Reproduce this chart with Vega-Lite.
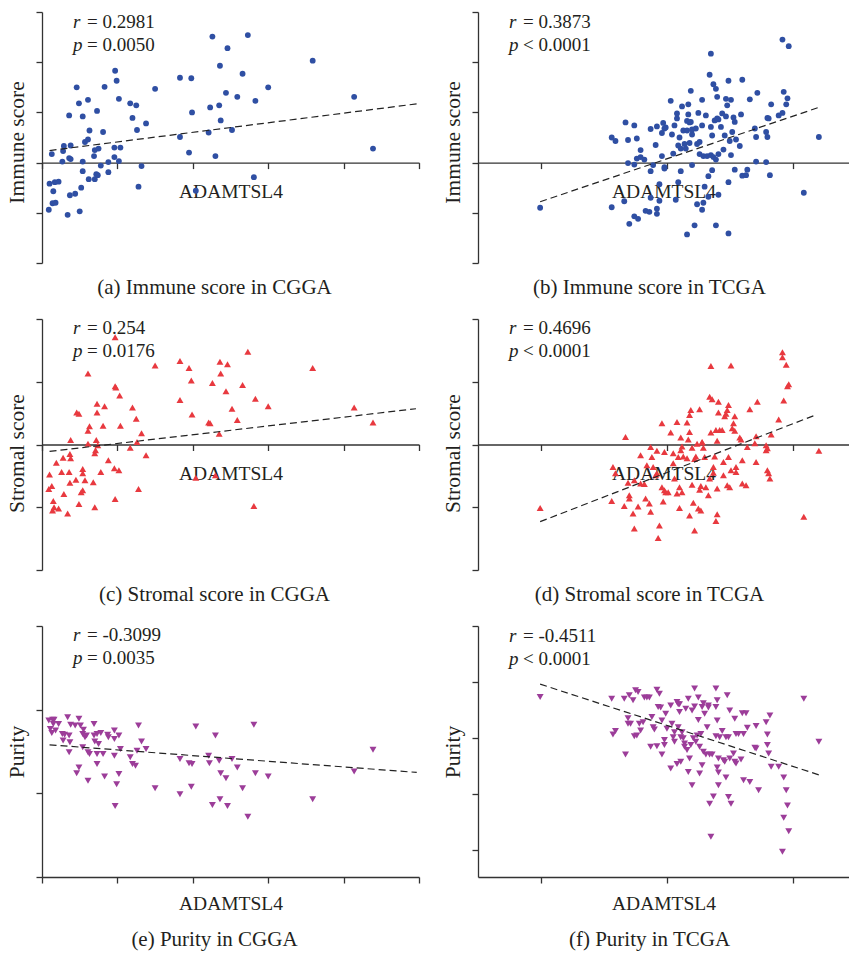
{
"$schema":"https://vega.github.io/schema/vega-lite/v6.json",
"background":"white",
"autosize":{"type":"pad"},
"padding":{"left":6,"top":11,"right":0,"bottom":0},
"bounds":"flush",
"columns":2,
"spacing":{"row":56,"column":59},
"config":{
 "view":{"stroke":null},
 "font":"Liberation Serif",
 "axis":{"labels":false,"grid":false,"domainColor":"#333","domainWidth":1.3,"tickColor":"#333","tickWidth":1.3,"tickSize":6,"titleFont":"Liberation Serif","titleFontWeight":"normal","titleColor":"#231f20"},
 "axisX":{"titleFontSize":19.5,"titlePadding":13},
 "axisY":{"titleFontSize":21.5,"titlePadding":7},
 "title":{"font":"Liberation Serif","fontSize":21,"fontWeight":"normal","color":"#231f20","orient":"bottom","anchor":"middle","offset":13},
 "text":{"font":"Liberation Serif","fontSize":19,"color":"#231f20","align":"left","baseline":"alphabetic","lineHeight":23}
},
"datasets":{
"a":[{"x":0.13,"y":0.17},{"x":0.10,"y":-0.42},{"x":0.15,"y":-0.57},{"x":0.17,"y":-0.39},{"x":0.22,"y":-0.38},{"x":0.09,"y":-0.94},{"x":0.14,"y":-0.81},{"x":0.18,"y":-0.80},{"x":0.27,"y":0.02},{"x":0.28,"y":0.23},{"x":0.29,"y":0.33},{"x":0.34,"y":-1.04},{"x":0.37,"y":-0.65},{"x":0.36,"y":0.09},{"x":0.38,"y":0.07},{"x":0.38,"y":0.34},{"x":0.36,"y":0.94},{"x":0.44,"y":-0.62},{"x":0.46,"y":1.50},{"x":0.49,"y":1.18},{"x":0.50,"y":-0.97},{"x":0.52,"y":-0.50},{"x":0.54,"y":0.02},{"x":0.54,"y":0.92},{"x":0.54,"y":-0.17},{"x":0.57,"y":0.41},{"x":0.61,"y":1.25},{"x":0.61,"y":0.46},{"x":0.62,"y":-0.33},{"x":0.63,"y":0.64},{"x":0.69,"y":0.13},{"x":0.70,"y":0.25},{"x":0.70,"y":-0.33},{"x":0.72,"y":-0.23},{"x":0.73,"y":1.03},{"x":0.74,"y":-0.25},{"x":0.75,"y":0.28},{"x":0.78,"y":-0.06},{"x":0.81,"y":0.61},{"x":0.83,"y":1.51},{"x":0.88,"y":0.01},{"x":0.88,"y":-0.19},{"x":0.96,"y":0.30},{"x":0.96,"y":0.11},{"x":0.97,"y":1.83},{"x":0.99,"y":1.63},{"x":1.02,"y":0.03},{"x":1.02,"y":1.27},{"x":1.04,"y":0.30},{"x":1.17,"y":1.18},{"x":1.20,"y":0.89},{"x":1.25,"y":1.14},{"x":1.26,"y":0.65},{"x":1.28,"y":-0.48},{"x":1.32,"y":-0.07},{"x":1.38,"y":0.78},{"x":1.50,"y":1.47},{"x":1.83,"y":1.69},{"x":1.83,"y":0.51},{"x":1.95,"y":0.20},{"x":1.98,"y":1.68},{"x":1.99,"y":1.00},{"x":2.04,"y":-0.56},{"x":2.21,"y":0.60},{"x":2.23,"y":1.10},{"x":2.26,"y":2.51},{"x":2.30,"y":0.13},{"x":2.35,"y":1.14},{"x":2.36,"y":1.93},{"x":2.37,"y":0.84},{"x":2.44,"y":1.39},{"x":2.46,"y":2.28},{"x":2.52,"y":0.65},{"x":2.59,"y":1.31},{"x":2.66,"y":1.77},{"x":2.73,"y":2.54},{"x":2.81,"y":-0.29},{"x":2.83,"y":1.23},{"x":3.00,"y":1.50},{"x":3.59,"y":2.03},{"x":4.14,"y":1.31},{"x":4.39,"y":0.28}],
"a_fit":[{"x":0.10,"y":0.24},{"x":4.97,"y":1.17}],
"b":[{"x":-0.01,"y":-0.90},{"x":0.56,"y":0.50},{"x":0.59,"y":0.43},{"x":0.56,"y":-0.89},{"x":0.66,"y":-0.77},{"x":0.67,"y":0.80},{"x":0.69,"y":0.45},{"x":0.69,"y":-0.01},{"x":0.70,"y":-1.22},{"x":0.74,"y":0.74},{"x":0.74,"y":-0.04},{"x":0.74,"y":-1.07},{"x":0.76,"y":0.48},{"x":0.77,"y":-1.12},{"x":0.76,"y":0.08},{"x":0.79,"y":0.25},{"x":0.79,"y":0.11},{"x":0.82,"y":0.06},{"x":0.83,"y":-0.96},{"x":0.86,"y":-0.98},{"x":0.87,"y":0.67},{"x":0.87,"y":-0.17},{"x":0.87,"y":-0.70},{"x":0.89,"y":-0.05},{"x":0.91,"y":0.35},{"x":0.92,"y":0.72},{"x":0.92,"y":-0.92},{"x":0.92,"y":-1.02},{"x":0.94,"y":-0.43},{"x":0.94,"y":-0.76},{"x":0.96,"y":0.13},{"x":0.96,"y":0.59},{"x":0.97,"y":0.79},{"x":0.98,"y":0.68},{"x":0.98,"y":-0.09},{"x":0.98,"y":-0.12},{"x":0.99,"y":0.70},{"x":1.03,"y":1.23},{"x":1.04,"y":0.56},{"x":1.05,"y":0.18},{"x":1.06,"y":0.74},{"x":1.07,"y":-0.74},{"x":1.08,"y":0.88},{"x":1.08,"y":0.98},{"x":1.09,"y":0.34},{"x":1.09,"y":-0.39},{"x":1.10,"y":0.50},{"x":1.11,"y":0.28},{"x":1.11,"y":-0.17},{"x":1.12,"y":1.12},{"x":1.13,"y":0.64},{"x":1.14,"y":0.37},{"x":1.15,"y":0.28},{"x":1.16,"y":0.64},{"x":1.16,"y":0.83},{"x":1.16,"y":-1.43},{"x":1.17,"y":1.16},{"x":1.17,"y":0.96},{"x":1.18,"y":0.39},{"x":1.18,"y":0.80},{"x":1.19,"y":1.43},{"x":1.19,"y":0.81},{"x":1.20,"y":-0.05},{"x":1.20,"y":0.56},{"x":1.20,"y":0.66},{"x":1.22,"y":-1.25},{"x":1.23,"y":0.68},{"x":1.24,"y":0.37},{"x":1.24,"y":-0.83},{"x":1.25,"y":0.99},{"x":1.26,"y":0.41},{"x":1.26,"y":0.17},{"x":1.28,"y":1.25},{"x":1.28,"y":0.74},{"x":1.28,"y":-0.94},{"x":1.29,"y":0.13},{"x":1.29,"y":-0.80},{"x":1.30,"y":-0.48},{"x":1.31,"y":0.94},{"x":1.32,"y":0.13},{"x":1.33,"y":-0.68},{"x":1.33,"y":-0.27},{"x":1.34,"y":1.75},{"x":1.35,"y":0.71},{"x":1.35,"y":2.17},{"x":1.35,"y":0.15},{"x":1.36,"y":-0.15},{"x":1.36,"y":0.54},{"x":1.37,"y":1.56},{"x":1.37,"y":0.11},{"x":1.38,"y":0.84},{"x":1.39,"y":-1.25},{"x":1.39,"y":0.06},{"x":1.39,"y":1.47},{"x":1.40,"y":0.88},{"x":1.40,"y":1.31},{"x":1.41,"y":0.17},{"x":1.41,"y":-0.64},{"x":1.41,"y":0.86},{"x":1.43,"y":0.71},{"x":1.44,"y":0.98},{"x":1.45,"y":0.26},{"x":1.46,"y":0.54},{"x":1.47,"y":1.27},{"x":1.47,"y":0.92},{"x":1.48,"y":1.14},{"x":1.49,"y":-1.41},{"x":1.49,"y":1.63},{"x":1.49,"y":-0.39},{"x":1.50,"y":0.43},{"x":1.51,"y":0.15},{"x":1.51,"y":1.25},{"x":1.52,"y":0.61},{"x":1.53,"y":0.90},{"x":1.54,"y":-0.14},{"x":1.54,"y":0.81},{"x":1.55,"y":0.46},{"x":1.58,"y":0.33},{"x":1.59,"y":0.96},{"x":1.60,"y":-0.26},{"x":1.60,"y":1.65},{"x":1.63,"y":-0.25},{"x":1.64,"y":-0.14},{"x":1.66,"y":1.26},{"x":1.70,"y":0.68},{"x":1.71,"y":0.51},{"x":1.71,"y":0.02},{"x":1.72,"y":1.39},{"x":1.79,"y":0.01},{"x":1.79,"y":0.61},{"x":1.80,"y":0.51},{"x":1.80,"y":0.89},{"x":1.81,"y":0.88},{"x":1.82,"y":-0.25},{"x":1.83,"y":1.16},{"x":1.89,"y":0.94},{"x":1.92,"y":2.45},{"x":1.92,"y":0.99},{"x":1.93,"y":1.41},{"x":1.95,"y":1.16},{"x":1.96,"y":1.28},{"x":1.97,"y":2.32},{"x":2.09,"y":-0.60},{"x":2.21,"y":0.51}],
"b_fit":[{"x":-0.01,"y":-0.78},{"x":2.21,"y":1.10}],
"c":[{"x":0.10,"y":-0.48},{"x":0.09,"y":-0.71},{"x":0.13,"y":-0.66},{"x":0.15,"y":-0.90},{"x":0.14,"y":-1.05},{"x":0.16,"y":-1.00},{"x":0.19,"y":-0.29},{"x":0.22,"y":-1.02},{"x":0.26,"y":-0.44},{"x":0.28,"y":-0.21},{"x":0.29,"y":-0.79},{"x":0.34,"y":-1.10},{"x":0.36,"y":-0.44},{"x":0.37,"y":-0.15},{"x":0.38,"y":0.07},{"x":0.38,"y":-0.22},{"x":0.37,"y":-0.61},{"x":0.45,"y":-0.56},{"x":0.46,"y":0.51},{"x":0.49,"y":0.49},{"x":0.49,"y":-0.95},{"x":0.52,"y":-0.76},{"x":0.54,"y":-0.39},{"x":0.54,"y":-0.73},{"x":0.54,"y":-0.46},{"x":0.57,"y":-0.57},{"x":0.61,"y":1.13},{"x":0.61,"y":0.01},{"x":0.61,"y":0.22},{"x":0.63,"y":0.29},{"x":0.68,"y":-0.60},{"x":0.70,"y":-0.14},{"x":0.70,"y":-1.00},{"x":0.71,"y":-0.09},{"x":0.73,"y":0.65},{"x":0.73,"y":0.51},{"x":0.72,"y":0.07},{"x":0.74,"y":-0.01},{"x":0.78,"y":-0.44},{"x":0.81,"y":0.30},{"x":0.83,"y":0.61},{"x":0.88,"y":-0.25},{"x":0.96,"y":-0.38},{"x":0.97,"y":-0.87},{"x":0.97,"y":1.71},{"x":0.97,"y":0.93},{"x":0.98,"y":0.91},{"x":1.02,"y":-0.41},{"x":1.03,"y":0.78},{"x":1.04,"y":0.30},{"x":1.17,"y":-0.05},{"x":1.20,"y":0.59},{"x":1.25,"y":0.41},{"x":1.26,"y":0.04},{"x":1.28,"y":-0.71},{"x":1.32,"y":0.18},{"x":1.38,"y":-0.17},{"x":1.50,"y":1.26},{"x":1.83,"y":1.33},{"x":1.83,"y":0.71},{"x":1.95,"y":1.22},{"x":1.98,"y":1.02},{"x":1.99,"y":0.48},{"x":2.04,"y":-0.53},{"x":2.21,"y":0.35},{"x":2.23,"y":0.34},{"x":2.26,"y":0.98},{"x":2.30,"y":-0.49},{"x":2.35,"y":0.17},{"x":2.36,"y":1.32},{"x":2.37,"y":1.13},{"x":2.44,"y":0.85},{"x":2.46,"y":1.28},{"x":2.52,"y":0.57},{"x":2.59,"y":0.39},{"x":2.66,"y":0.95},{"x":2.73,"y":1.48},{"x":2.81,"y":-0.98},{"x":2.83,"y":0.73},{"x":3.00,"y":0.61},{"x":3.59,"y":1.22},{"x":4.14,"y":0.59},{"x":4.39,"y":0.35}],
"c_fit":[{"x":0.10,"y":-0.11},{"x":4.96,"y":0.57}],
"d":[{"x":-0.01,"y":-1.01},{"x":0.56,"y":-0.90},{"x":0.57,"y":-0.36},{"x":0.59,"y":-0.46},{"x":0.66,"y":-0.98},{"x":0.67,"y":0.12},{"x":0.69,"y":-0.61},{"x":0.70,"y":-0.81},{"x":0.70,"y":-0.86},{"x":0.73,"y":-1.10},{"x":0.74,"y":-0.57},{"x":0.74,"y":-1.34},{"x":0.77,"y":-0.99},{"x":0.79,"y":-0.17},{"x":0.79,"y":-0.62},{"x":0.82,"y":-0.63},{"x":0.83,"y":-0.86},{"x":0.84,"y":-0.33},{"x":0.86,"y":-0.94},{"x":0.87,"y":-1.07},{"x":0.87,"y":-0.04},{"x":0.88,"y":-0.20},{"x":0.89,"y":-0.36},{"x":0.91,"y":-0.49},{"x":0.92,"y":-0.10},{"x":0.92,"y":-0.46},{"x":0.93,"y":-1.49},{"x":0.94,"y":-1.29},{"x":0.96,"y":-0.68},{"x":0.96,"y":0.34},{"x":0.97,"y":-0.91},{"x":0.98,"y":-0.73},{"x":0.98,"y":-0.12},{"x":0.99,"y":-0.76},{"x":1.01,"y":-0.76},{"x":1.03,"y":0.19},{"x":1.05,"y":-0.14},{"x":1.05,"y":-0.30},{"x":1.06,"y":-0.54},{"x":1.08,"y":0.36},{"x":1.08,"y":-0.78},{"x":1.09,"y":-0.20},{"x":1.10,"y":-0.68},{"x":1.10,"y":-1.01},{"x":1.11,"y":0.11},{"x":1.11,"y":-0.09},{"x":1.12,"y":-0.76},{"x":1.12,"y":-0.03},{"x":1.13,"y":-0.19},{"x":1.16,"y":-0.22},{"x":1.16,"y":0.35},{"x":1.17,"y":0.08},{"x":1.18,"y":0.47},{"x":1.18,"y":0.20},{"x":1.18,"y":-1.13},{"x":1.19,"y":0.55},{"x":1.20,"y":-0.05},{"x":1.20,"y":-0.64},{"x":1.21,"y":-0.93},{"x":1.22,"y":-0.23},{"x":1.22,"y":-1.37},{"x":1.23,"y":-0.19},{"x":1.24,"y":0.01},{"x":1.25,"y":-1.02},{"x":1.26,"y":0.56},{"x":1.26,"y":-0.72},{"x":1.27,"y":-1.05},{"x":1.27,"y":-0.66},{"x":1.28,"y":0.03},{"x":1.28,"y":0.04},{"x":1.29,"y":-0.05},{"x":1.30,"y":-0.20},{"x":1.31,"y":-0.68},{"x":1.33,"y":-0.81},{"x":1.34,"y":0.76},{"x":1.34,"y":-0.54},{"x":1.35,"y":0.19},{"x":1.35,"y":1.25},{"x":1.36,"y":0.72},{"x":1.37,"y":-0.36},{"x":1.37,"y":-0.45},{"x":1.38,"y":-0.19},{"x":1.39,"y":0.23},{"x":1.39,"y":-1.22},{"x":1.40,"y":-1.11},{"x":1.40,"y":0.06},{"x":1.40,"y":-0.70},{"x":1.41,"y":0.51},{"x":1.41,"y":0.68},{"x":1.42,"y":0.23},{"x":1.44,"y":0.23},{"x":1.45,"y":-0.28},{"x":1.45,"y":-0.49},{"x":1.46,"y":0.45},{"x":1.47,"y":0.49},{"x":1.48,"y":0.55},{"x":1.48,"y":-0.65},{"x":1.49,"y":0.63},{"x":1.49,"y":-0.20},{"x":1.50,"y":-0.68},{"x":1.51,"y":-0.41},{"x":1.51,"y":1.26},{"x":1.52,"y":0.26},{"x":1.53,"y":0.34},{"x":1.54,"y":0.45},{"x":1.54,"y":0.22},{"x":1.55,"y":-0.44},{"x":1.55,"y":-0.36},{"x":1.58,"y":0.11},{"x":1.59,"y":0.08},{"x":1.60,"y":-0.25},{"x":1.60,"y":-0.62},{"x":1.63,"y":-0.65},{"x":1.64,"y":-0.04},{"x":1.66,"y":0.56},{"x":1.70,"y":0.02},{"x":1.71,"y":-0.28},{"x":1.71,"y":0.13},{"x":1.72,"y":0.68},{"x":1.79,"y":-0.09},{"x":1.79,"y":-0.01},{"x":1.80,"y":-0.41},{"x":1.80,"y":-0.06},{"x":1.81,"y":-0.46},{"x":1.82,"y":-0.54},{"x":1.83,"y":0.16},{"x":1.89,"y":0.40},{"x":1.92,"y":1.47},{"x":1.92,"y":1.39},{"x":1.93,"y":0.70},{"x":1.95,"y":1.27},{"x":1.96,"y":0.93},{"x":1.97,"y":0.96},{"x":2.09,"y":-1.15},{"x":2.21,"y":-0.10}],
"d_fit":[{"x":-0.01,"y":-1.23},{"x":2.17,"y":0.46}],
"e":[{"x":0.09,"y":1.87},{"x":0.11,"y":1.77},{"x":0.13,"y":1.72},{"x":0.14,"y":1.88},{"x":0.15,"y":1.83},{"x":0.16,"y":1.88},{"x":0.18,"y":1.75},{"x":0.22,"y":1.83},{"x":0.27,"y":1.71},{"x":0.28,"y":1.63},{"x":0.30,"y":1.70},{"x":0.34,"y":1.91},{"x":0.36,"y":1.69},{"x":0.37,"y":1.61},{"x":0.38,"y":1.82},{"x":0.36,"y":1.49},{"x":0.44,"y":1.81},{"x":0.46,"y":1.24},{"x":0.49,"y":1.89},{"x":0.49,"y":1.31},{"x":0.51,"y":1.81},{"x":0.54,"y":1.71},{"x":0.54,"y":1.55},{"x":0.55,"y":1.76},{"x":0.57,"y":1.67},{"x":0.59,"y":1.69},{"x":0.61,"y":1.49},{"x":0.61,"y":1.15},{"x":0.63,"y":1.47},{"x":0.69,"y":1.83},{"x":0.69,"y":1.69},{"x":0.70,"y":1.62},{"x":0.73,"y":1.71},{"x":0.73,"y":1.47},{"x":0.73,"y":1.35},{"x":0.75,"y":1.59},{"x":0.78,"y":1.72},{"x":0.81,"y":1.47},{"x":0.83,"y":1.20},{"x":0.87,"y":1.70},{"x":0.88,"y":1.67},{"x":0.96,"y":1.75},{"x":0.96,"y":1.65},{"x":0.96,"y":1.45},{"x":0.97,"y":0.85},{"x":0.99,"y":1.11},{"x":1.02,"y":1.23},{"x":1.02,"y":1.69},{"x":1.04,"y":1.53},{"x":1.17,"y":1.43},{"x":1.20,"y":1.35},{"x":1.24,"y":1.33},{"x":1.26,"y":1.51},{"x":1.28,"y":1.81},{"x":1.32,"y":1.62},{"x":1.38,"y":1.53},{"x":1.50,"y":1.06},{"x":1.83,"y":1.41},{"x":1.83,"y":0.99},{"x":1.95,"y":1.36},{"x":1.98,"y":1.08},{"x":1.99,"y":1.35},{"x":2.04,"y":1.80},{"x":2.21,"y":1.45},{"x":2.22,"y":1.36},{"x":2.26,"y":0.86},{"x":2.30,"y":1.69},{"x":2.35,"y":1.39},{"x":2.36,"y":0.93},{"x":2.37,"y":1.24},{"x":2.44,"y":1.18},{"x":2.46,"y":0.85},{"x":2.52,"y":1.41},{"x":2.59,"y":1.31},{"x":2.66,"y":1.06},{"x":2.73,"y":0.72},{"x":2.81,"y":1.82},{"x":2.83,"y":1.24},{"x":3.00,"y":1.20},{"x":3.59,"y":0.93},{"x":4.14,"y":1.26},{"x":4.39,"y":1.52}],
"e_fit":[{"x":0.10,"y":1.58},{"x":4.97,"y":1.25}],
"f":[{"x":-0.01,"y":2.73},{"x":0.56,"y":2.70},{"x":0.57,"y":2.06},{"x":0.59,"y":2.12},{"x":0.66,"y":2.70},{"x":0.67,"y":1.70},{"x":0.69,"y":2.35},{"x":0.69,"y":2.25},{"x":0.70,"y":2.76},{"x":0.71,"y":2.25},{"x":0.73,"y":2.67},{"x":0.74,"y":2.03},{"x":0.75,"y":2.85},{"x":0.76,"y":2.04},{"x":0.77,"y":2.82},{"x":0.78,"y":2.25},{"x":0.79,"y":2.13},{"x":0.81,"y":2.28},{"x":0.82,"y":2.72},{"x":0.84,"y":2.72},{"x":0.86,"y":2.72},{"x":0.87,"y":1.84},{"x":0.88,"y":2.37},{"x":0.89,"y":2.19},{"x":0.90,"y":2.15},{"x":0.92,"y":1.85},{"x":0.92,"y":2.86},{"x":0.93,"y":2.55},{"x":0.94,"y":2.79},{"x":0.95,"y":2.54},{"x":0.96,"y":2.31},{"x":0.96,"y":1.70},{"x":0.98,"y":1.96},{"x":0.98,"y":1.87},{"x":0.99,"y":2.43},{"x":1.00,"y":2.16},{"x":1.03,"y":2.58},{"x":1.03,"y":1.45},{"x":1.04,"y":2.25},{"x":1.05,"y":2.01},{"x":1.06,"y":2.10},{"x":1.06,"y":1.93},{"x":1.08,"y":2.64},{"x":1.08,"y":1.53},{"x":1.09,"y":2.60},{"x":1.09,"y":2.19},{"x":1.10,"y":2.60},{"x":1.10,"y":2.46},{"x":1.11,"y":2.01},{"x":1.11,"y":1.57},{"x":1.12,"y":2.10},{"x":1.13,"y":1.99},{"x":1.14,"y":1.84},{"x":1.14,"y":1.90},{"x":1.15,"y":2.52},{"x":1.16,"y":1.78},{"x":1.17,"y":1.39},{"x":1.17,"y":2.70},{"x":1.18,"y":1.63},{"x":1.19,"y":1.87},{"x":1.20,"y":1.15},{"x":1.20,"y":2.49},{"x":1.21,"y":1.99},{"x":1.22,"y":2.56},{"x":1.22,"y":2.88},{"x":1.23,"y":1.93},{"x":1.24,"y":2.04},{"x":1.25,"y":2.72},{"x":1.25,"y":2.32},{"x":1.26,"y":1.84},{"x":1.26,"y":1.36},{"x":1.27,"y":2.07},{"x":1.28,"y":2.55},{"x":1.28,"y":1.51},{"x":1.29,"y":1.75},{"x":1.29,"y":2.62},{"x":1.30,"y":2.43},{"x":1.31,"y":1.70},{"x":1.32,"y":2.19},{"x":1.33,"y":2.58},{"x":1.33,"y":2.54},{"x":1.34,"y":0.82},{"x":1.34,"y":1.70},{"x":1.35,"y":0.23},{"x":1.36,"y":1.70},{"x":1.37,"y":0.95},{"x":1.39,"y":2.03},{"x":1.39,"y":2.55},{"x":1.39,"y":2.88},{"x":1.40,"y":2.67},{"x":1.40,"y":2.31},{"x":1.40,"y":1.47},{"x":1.41,"y":1.63},{"x":1.41,"y":1.15},{"x":1.41,"y":1.38},{"x":1.42,"y":2.01},{"x":1.44,"y":2.12},{"x":1.45,"y":1.60},{"x":1.46,"y":1.57},{"x":1.47,"y":2.01},{"x":1.47,"y":1.29},{"x":1.48,"y":2.76},{"x":1.49,"y":0.94},{"x":1.49,"y":2.01},{"x":1.50,"y":2.49},{"x":1.50,"y":1.63},{"x":1.51,"y":0.82},{"x":1.53,"y":1.72},{"x":1.54,"y":1.57},{"x":1.54,"y":2.34},{"x":1.55,"y":1.54},{"x":1.55,"y":2.07},{"x":1.57,"y":2.07},{"x":1.59,"y":1.61},{"x":1.60,"y":2.44},{"x":1.61,"y":2.07},{"x":1.61,"y":1.24},{"x":1.63,"y":2.44},{"x":1.64,"y":2.18},{"x":1.66,"y":1.21},{"x":1.70,"y":1.82},{"x":1.71,"y":1.81},{"x":1.71,"y":2.21},{"x":1.73,"y":1.06},{"x":1.79,"y":2.28},{"x":1.80,"y":2.06},{"x":1.80,"y":1.87},{"x":1.81,"y":1.72},{"x":1.82,"y":2.40},{"x":1.83,"y":1.48},{"x":1.89,"y":1.48},{"x":1.93,"y":1.29},{"x":1.93,"y":0.57},{"x":1.92,"y":-0.04},{"x":1.95,"y":1.06},{"x":1.96,"y":0.79},{"x":1.97,"y":0.33},{"x":2.09,"y":2.70},{"x":2.21,"y":1.93}],
"f_fit":[{"x":-0.01,"y":2.96},{"x":2.22,"y":1.33}]
},
"concat":[
{"width":377,"height":251,"title":{"text":"(a) Immune score in CGGA","dx":-16},
 "layer":[
  {"data":{"name":"a"},"mark":{"type":"point","shape":"circle","filled":true,"size":34,"color":"#2f4fa3","opacity":1},
   "encoding":{"x":{"field":"x","type":"quantitative","title":"ADAMTSL4","scale":{"domain":[0,5],"nice":false,"zero":false},"axis":{"values":[0,1,2,3,4,5],"offset":-100.4}},
               "y":{"field":"y","type":"quantitative","title":"Immune score","scale":{"domain":[-2,3],"nice":false,"zero":false},"axis":{"values":[-2,-1,0,1,2,3],"titleY":130}}}},
  {"data":{"name":"a_fit"},"mark":{"type":"line","strokeDash":[7,4],"color":"#222","strokeWidth":1.2},
   "encoding":{"x":{"field":"x","type":"quantitative","title":"ADAMTSL4"},"y":{"field":"y","type":"quantitative","title":"Immune score"}}},
  {"data":{"values":[{}]},"mark":{"type":"text","text":["r","p"],"fontStyle":"italic"},"encoding":{"x":{"datum":0.41},"y":{"datum":2.69}}},
  {"data":{"values":[{}]},"mark":{"type":"text","text":["= 0.2981","= 0.0050"],"dx":14},"encoding":{"x":{"datum":0.41},"y":{"datum":2.69}}}
 ]},
{"width":371,"height":251,"title":{"text":"(b) Immune score in TCGA","dx":-14},
 "layer":[
  {"data":{"name":"b"},"mark":{"type":"point","shape":"circle","filled":true,"size":34,"color":"#2f4fa3","opacity":1},
   "encoding":{"x":{"field":"x","type":"quantitative","title":"ADAMTSL4","scale":{"domain":[-0.505,2.45],"nice":false,"zero":false},"axis":{"values":[0,1,2],"offset":-100.4}},
               "y":{"field":"y","type":"quantitative","title":"Immune score","scale":{"domain":[-2,3],"nice":false,"zero":false},"axis":{"values":[-2,-1,0,1,2,3],"titleY":130}}}},
  {"data":{"name":"b_fit"},"mark":{"type":"line","strokeDash":[7,4],"color":"#222","strokeWidth":1.2},
   "encoding":{"x":{"field":"x","type":"quantitative","title":"ADAMTSL4"},"y":{"field":"y","type":"quantitative","title":"Immune score"}}},
  {"data":{"values":[{}]},"mark":{"type":"text","text":["r","p"],"fontStyle":"italic"},"encoding":{"x":{"datum":-0.258},"y":{"datum":2.69}}},
  {"data":{"values":[{}]},"mark":{"type":"text","text":["= 0.3873","< 0.0001"],"dx":14},"encoding":{"x":{"datum":-0.258},"y":{"datum":2.69}}}
 ]},
{"width":377,"height":251,"title":{"text":"(c) Stromal score in CGGA","dx":-16},
 "layer":[
  {"data":{"name":"c"},"mark":{"type":"point","shape":"triangle-up","filled":true,"size":48,"color":"#e8393f","opacity":1},
   "encoding":{"x":{"field":"x","type":"quantitative","title":"ADAMTSL4","scale":{"domain":[0,5],"nice":false,"zero":false},"axis":{"values":[0,1,2,3,4,5],"offset":-125.5}},
               "y":{"field":"y","type":"quantitative","title":"Stromal score","scale":{"domain":[-2,2],"nice":false,"zero":false},"axis":{"values":[-2,-1,0,1,2],"titleY":134}}}},
  {"data":{"name":"c_fit"},"mark":{"type":"line","strokeDash":[7,4],"color":"#222","strokeWidth":1.2},
   "encoding":{"x":{"field":"x","type":"quantitative","title":"ADAMTSL4"},"y":{"field":"y","type":"quantitative","title":"Stromal score"}}},
  {"data":{"values":[{}]},"mark":{"type":"text","text":["r","p"],"fontStyle":"italic"},"encoding":{"x":{"datum":0.41},"y":{"datum":1.76}}},
  {"data":{"values":[{}]},"mark":{"type":"text","text":["= 0.254","= 0.0176"],"dx":14},"encoding":{"x":{"datum":0.41},"y":{"datum":1.76}}}
 ]},
{"width":371,"height":251,"title":{"text":"(d) Stromal score in TCGA","dx":-14},
 "layer":[
  {"data":{"name":"d"},"mark":{"type":"point","shape":"triangle-up","filled":true,"size":48,"color":"#e8393f","opacity":1},
   "encoding":{"x":{"field":"x","type":"quantitative","title":"ADAMTSL4","scale":{"domain":[-0.505,2.45],"nice":false,"zero":false},"axis":{"values":[0,1,2],"offset":-125.5}},
               "y":{"field":"y","type":"quantitative","title":"Stromal score","scale":{"domain":[-2,2],"nice":false,"zero":false},"axis":{"values":[-2,-1,0,1,2],"titleY":134}}}},
  {"data":{"name":"d_fit"},"mark":{"type":"line","strokeDash":[7,4],"color":"#222","strokeWidth":1.2},
   "encoding":{"x":{"field":"x","type":"quantitative","title":"ADAMTSL4"},"y":{"field":"y","type":"quantitative","title":"Stromal score"}}},
  {"data":{"values":[{}]},"mark":{"type":"text","text":["r","p"],"fontStyle":"italic"},"encoding":{"x":{"datum":-0.258},"y":{"datum":1.76}}},
  {"data":{"values":[{}]},"mark":{"type":"text","text":["= 0.4696","< 0.0001"],"dx":14},"encoding":{"x":{"datum":-0.258},"y":{"datum":1.76}}}
 ]},
{"width":377,"height":251,"title":{"text":"(e) Purity in CGGA","offset":16,"dx":-16},
 "layer":[
  {"data":{"name":"e"},"mark":{"type":"point","shape":"triangle-down","filled":true,"size":48,"color":"#9c3d99","opacity":1},
   "encoding":{"x":{"field":"x","type":"quantitative","title":"ADAMTSL4","scale":{"domain":[0,5],"nice":false,"zero":false},"axis":{"values":[0,1,2,3,4,5],"titlePadding":11}},
               "y":{"field":"y","type":"quantitative","title":"Purity","scale":{"domain":[0,3],"nice":false,"zero":false},"axis":{"values":[0,1,2,3]}}}},
  {"data":{"name":"e_fit"},"mark":{"type":"line","strokeDash":[7,4],"color":"#222","strokeWidth":1.2},
   "encoding":{"x":{"field":"x","type":"quantitative","title":"ADAMTSL4"},"y":{"field":"y","type":"quantitative","title":"Purity"}}},
  {"data":{"values":[{}]},"mark":{"type":"text","text":["r","p"],"fontStyle":"italic"},"encoding":{"x":{"datum":0.41},"y":{"datum":2.82}}},
  {"data":{"values":[{}]},"mark":{"type":"text","text":["= -0.3099","= 0.0035"],"dx":14},"encoding":{"x":{"datum":0.41},"y":{"datum":2.82}}}
 ]},
{"width":371,"height":251,"title":{"text":"(f) Purity in TCGA","offset":16,"dx":-14},
 "layer":[
  {"data":{"name":"f"},"mark":{"type":"point","shape":"triangle-down","filled":true,"size":48,"color":"#9c3d99","opacity":1},
   "encoding":{"x":{"field":"x","type":"quantitative","title":"ADAMTSL4","scale":{"domain":[-0.505,2.45],"nice":false,"zero":false},"axis":{"values":[0,1,2],"titlePadding":11}},
               "y":{"field":"y","type":"quantitative","title":"Purity","scale":{"domain":[-0.49,4],"nice":false,"zero":false},"axis":{"values":[0,1,2,3,4]}}}},
  {"data":{"name":"f_fit"},"mark":{"type":"line","strokeDash":[7,4],"color":"#222","strokeWidth":1.2},
   "encoding":{"x":{"field":"x","type":"quantitative","title":"ADAMTSL4"},"y":{"field":"y","type":"quantitative","title":"Purity"}}},
  {"data":{"values":[{}]},"mark":{"type":"text","text":["r","p"],"fontStyle":"italic"},"encoding":{"x":{"datum":-0.258},"y":{"datum":3.72}}},
  {"data":{"values":[{}]},"mark":{"type":"text","text":["= -0.4511","< 0.0001"],"dx":14},"encoding":{"x":{"datum":-0.258},"y":{"datum":3.72}}}
 ]}
]
}
